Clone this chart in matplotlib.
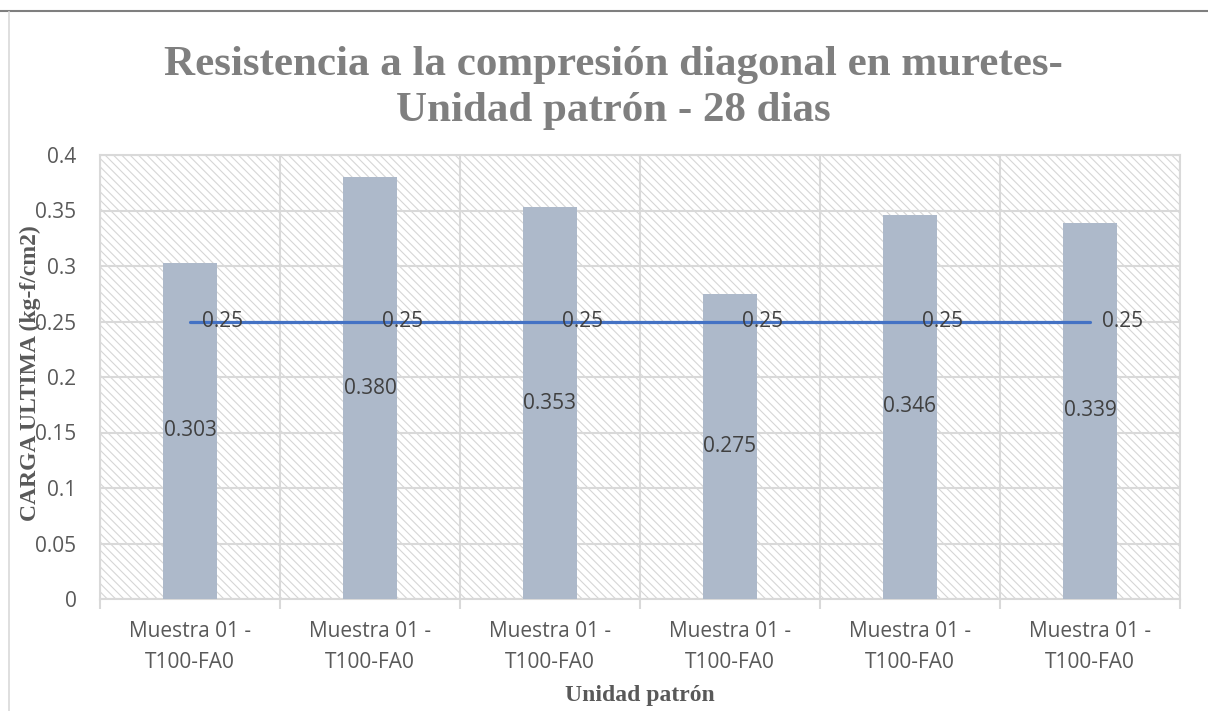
import matplotlib
matplotlib.use("Agg")
import matplotlib.pyplot as plt
from matplotlib.patches import Rectangle
from matplotlib.lines import Line2D
import numpy as np

categories = ["Muestra 01 -\nT100-FA0"] * 6
bar_values = [0.303, 0.380, 0.353, 0.275, 0.346, 0.339]
bar_labels = ["0.303", "0.380", "0.353", "0.275", "0.346", "0.339"]
line_values = [0.25, 0.25, 0.25, 0.25, 0.25, 0.25]
y_ticks = [0, 0.05, 0.1, 0.15, 0.2, 0.25, 0.3, 0.35, 0.4]
y_ticklabels = ["0", "0.05", "0.1", "0.15", "0.2", "0.25", "0.3", "0.35", "0.4"]
title = "Resistencia a la compresión diagonal en muretes-\nUnidad patrón - 28 dias"
x_title = "Unidad patrón"
y_title = "CARGA ULTIMA (kg-f/cm2)"

W, H = 1208, 711
fig = plt.figure(figsize=(W / 100, H / 100), dpi=100)
fig.patch.set_facecolor("white")

# outer frame lines
fig.add_artist(Line2D([0, 1], [1 - 10.5 / H, 1 - 10.5 / H], transform=fig.transFigure,
                      color="#7f7f7f", lw=1.5))
fig.add_artist(Line2D([8.5 / W, 8.5 / W], [0, 1 - 12 / H], transform=fig.transFigure,
                      color="#d9d9d9", lw=1.2))

left, right, top, bottom = 100, 1180, 155, 599
ax = fig.add_axes([left / W, 1 - bottom / H, (right - left) / W, (bottom - top) / H])

plt.rcParams["hatch.linewidth"] = 0.8
bg = Rectangle((0, 0), 1, 1, transform=ax.transAxes, facecolor="white",
               edgecolor="#d6d6d6", hatch="\\\\\\\\", lw=0, zorder=0)
ax.add_patch(bg)
ax.set_facecolor("none")

x = np.arange(len(categories))
ax.bar(x, bar_values, width=0.3, color="#adb9ca", zorder=3)
ax.plot(x, line_values, color="#4472c4", lw=2.3, solid_capstyle="round", zorder=4)

lab_font = "Open Sans"
fs = 15
for xi, v, lab in zip(x, bar_values, bar_labels):
    ax.text(xi, v / 2, lab, ha="center", va="center", fontsize=fs,
            family=lab_font, color="#404040", zorder=5)
for xi, v in zip(x, line_values):
    ax.annotate(f"{v:g}", (xi, v), xytext=(8.5, 0), textcoords="offset points",
                ha="left", va="center", fontsize=fs, family=lab_font,
                color="#404040", zorder=5)

ax.set_xlim(-0.5, len(categories) - 0.5)
ax.set_ylim(0, 0.4)
ax.set_yticks(y_ticks)
ax.set_yticklabels(y_ticklabels, family=lab_font, fontsize=fs, color="#595959")
ax.set_xticks(x)
ax.set_xticklabels(categories, family=lab_font, fontsize=fs, color="#595959",
                   linespacing=1.6)
ax.set_xticks(np.arange(-0.5, len(categories)), minor=True)
ax.tick_params(axis="x", which="major", length=0, pad=16)
ax.tick_params(axis="x", which="minor", length=7, color="#d9d9d9", width=1.5)
ax.tick_params(axis="y", length=0, pad=17)
ax.grid(axis="y", color="#d9d9d9", lw=1.5, zorder=1)
ax.grid(axis="x", which="minor", color="#d9d9d9", lw=1.5, zorder=1)
ax.set_axisbelow(True)
for s in ax.spines.values():
    s.set_color("#d9d9d9")
    s.set_linewidth(1.5)

serif = "Liberation Serif"
fig.text(613 / W, 1 - 88 / H, title, ha="center", va="center", family=serif,
         fontweight="bold", fontsize=31, color="#7f7f7f", linespacing=1.3)
fig.text(640 / W, 1 - 695 / H, x_title, ha="center", va="center", family=serif,
         fontweight="bold", fontsize=17, color="#595959")
fig.text(30 / W, 1 - 373 / H, y_title, ha="center", va="center", family=serif,
         fontweight="bold", fontsize=17, color="#595959", rotation=90)

fig.savefig("out.png", dpi=100)
